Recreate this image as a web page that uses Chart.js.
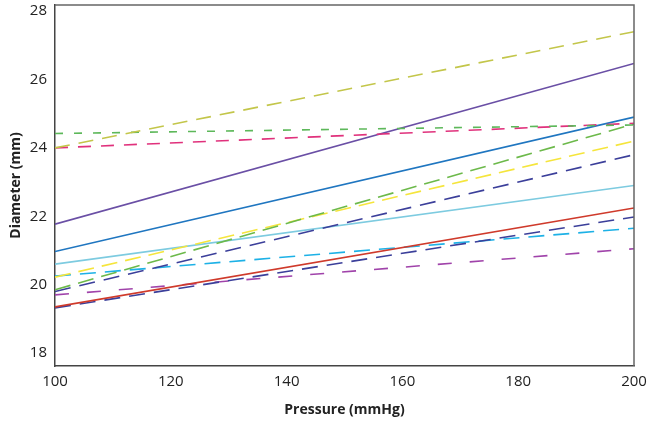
<!DOCTYPE html>
<html lang="en">
<head>
    <meta charset="UTF-8">
    <title>Diameter vs Pressure</title>
    <script src="https://cdn.jsdelivr.net/npm/chart.js"></script>
    <style>
        body { margin: 0; padding: 0; background: #fff; }
        #wrap { width: 650px; height: 421px; }
    </style>
</head>
<body>
    <div id="wrap"><canvas id="myChart"></canvas></div>
    <script>
        // pressure points (mmHg)
        const pressures = [100, 200];
        const xTicks = [100, 120, 140, 160, 180, 200];
        const yTicks = [18, 20, 22, 24, 26, 28];

        // diameter (mm) at each pressure, one array per line
        const oliveDash   = [24.0, 27.4];
        const purpleSolid = [21.77, 26.47];
        const greenShort  = [24.42, 24.67];
        const pinkDash    = [24.0, 24.72];
        const blueSolid   = [20.97, 24.9];
        const greenDash   = [19.85, 24.7];
        const yellowDash  = [20.22, 24.2];
        const navyDash1   = [19.8, 23.8];
        const lightBlue   = [20.6, 22.9];
        const redSolid    = [19.35, 22.24];
        const navyDash2   = [19.32, 21.98];
        const cyanDash    = [20.25, 21.65];
        const violetDash  = [19.7, 21.05];

        function pts(vals) {
            return vals.map((v, i) => ({ x: pressures[i], y: v }));
        }
        function line(vals, color, dash) {
            return {
                data: pts(vals),
                borderColor: color,
                borderWidth: 1.6,
                borderDash: dash || [],
                pointRadius: 0,
                fill: false
            };
        }

        const ctx = document.getElementById('myChart').getContext('2d');
        new Chart(ctx, {
            type: 'line',
            data: {
                datasets: [
                    line(oliveDash, '#c3c64a', [15, 9]),
                    line(greenShort, '#5db85a', [8, 11]),
                    line(pinkDash, '#e0317c', [13, 10]),
                    line(purpleSolid, '#6a4fa5'),
                    line(blueSolid, '#1f76c0'),
                    line(greenDash, '#6cb94a', [16, 8]),
                    line(yellowDash, '#f5e53c', [16, 8]),
                    line(navyDash1, '#3b3f9a', [16, 9]),
                    line(lightBlue, '#7dcbe0'),
                    line(redSolid, '#cf3a2b'),
                    line(navyDash2, '#3b3f9a', [16, 9]),
                    line(cyanDash, '#1db1e6', [16, 9]),
                    line(violetDash, '#a043aa', [14, 18])
                ]
            },
            options: {
                responsive: true,
                maintainAspectRatio: false,
                animation: false,
                layout: { padding: { top: 5, right: 16, left: 0, bottom: 0 } },
                plugins: {
                    legend: { display: false },
                    tooltip: { enabled: false }
                },
                scales: {
                    x: {
                        type: 'linear',
                        min: 100,
                        max: 200,
                        afterBuildTicks: (s) => { s.ticks = xTicks.map(v => ({ value: v })); },
                        afterFit: (s) => { s.height = 55; s.paddingLeft = 0; s.paddingRight = 0; },
                        grid: { display: false, drawTicks: true, tickLength: 5, tickColor: '#444' },
                        border: { display: true, color: '#444', width: 1.5 },
                        ticks: { color: '#222', font: { family: 'Open Sans', size: 15 }, padding: 2, maxRotation: 0 },
                        title: {
                            display: true,
                            text: 'Pressure (mmHg)',
                            color: '#222',
                            font: { family: 'Open Sans', size: 14, weight: 'bold' },
                            padding: { top: 0, bottom: 3 }
                        }
                    },
                    y: {
                        min: 17.62,
                        max: 28.18,
                        afterBuildTicks: (s) => { s.ticks = yTicks.map(v => ({ value: v })); },
                        afterFit: (s) => { s.width = 55; s.paddingTop = 0; s.paddingBottom = 0; },
                        grid: { display: false, drawTicks: true, tickLength: 5, tickColor: '#444' },
                        border: { display: true, color: '#444', width: 1.5 },
                        ticks: { color: '#222', font: { family: 'Open Sans', size: 15 }, padding: 3 },
                        title: {
                            display: true,
                            text: 'Diameter (mm)',
                            color: '#222',
                            font: { family: 'Open Sans', size: 14, weight: 'bold' },
                            padding: { top: 8, bottom: 2 }
                        }
                    }
                }
            },
            plugins: [{
                id: 'frame',
                afterDraw(chart) {
                    const a = chart.chartArea;
                    const c = chart.ctx;
                    c.save();
                    c.strokeStyle = '#666';
                    c.lineWidth = 1.5;
                    c.beginPath();
                    c.moveTo(a.left, a.top);
                    c.lineTo(a.right, a.top);
                    c.lineTo(a.right, a.bottom);
                    c.stroke();
                    c.restore();
                }
            }]
        });
    </script>
</body>
</html>
